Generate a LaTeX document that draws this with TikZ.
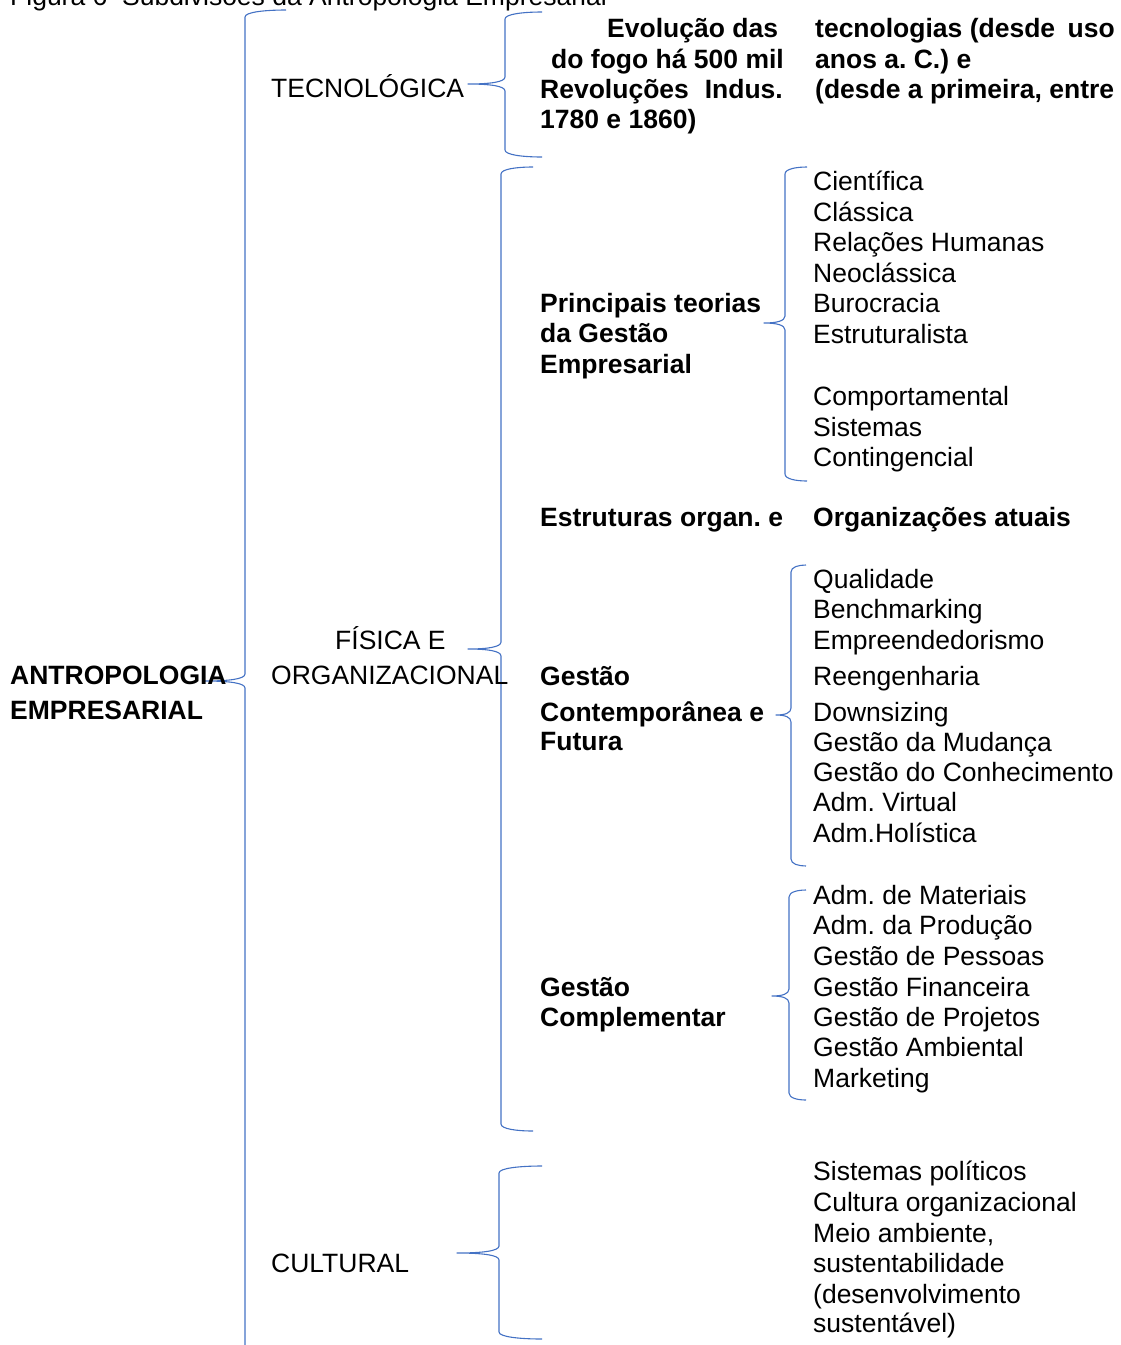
\documentclass[tikz,border=0pt]{standalone}
\usepackage{fontspec}
\setmainfont{Liberation Sans}
\frenchspacing
\definecolor{brc}{HTML}{4472C4}
\tikzset{
  txt/.style={anchor=base west, inner sep=0pt, font=\fontsize{26.5}{30}\selectfont},
  btxt/.style={txt, font=\fontsize{26.5}{30}\selectfont\bfseries},
  rbtxt/.style={btxt, anchor=base east},
  wbrace/.style={draw=brc, line width=1.1pt, line join=round}
}
% name, v (vertical x), e (arm end x), t (top y), b (bottom y), p (tip x), m (tip y)
\newcommand\wordbrace[7]{%
  \coordinate (#1) at (#6,#7);
  \draw[wbrace] (#3,#4) .. controls ({(#2+#3)/2},#4) and (#2,{#4+2}) .. (#2,{#4+7})
    -- (#2,{#7-7}) .. controls (#2,{#7-2}) and ({#2-0.4*(#2-#6)},#7) .. (#1)
    .. controls ({#2-0.4*(#2-#6)},#7) and (#2,{#7+2}) .. (#2,{#7+7})
    -- (#2,{#5-7}) .. controls (#2,{#5-2}) and ({(#2+#3)/2},#5) .. (#3,#5);
}
\begin{document}
\begin{tikzpicture}[x=1pt,y=-1pt]
\useasboundingbox (0,0) rectangle (1121,1345);
\clip (0,0) rectangle (1121,1345);

% title (cut off at top, as in the reference)
\node[txt] (title) at (10,5) {Figura 6\ \ Subdivisões da Antropologia Empresarial};

% braces
\wordbrace{bmain}{245}{286}{10}{1365}{205}{681}
\wordbrace{btec}{505}{542}{12}{157}{468}{84}
\wordbrace{bfis}{501}{533}{167}{1131}{468}{649}
\wordbrace{bpri}{785}{807}{167}{481}{764}{323}
\wordbrace{bcon}{791}{806}{565}{866}{776}{715}
\wordbrace{bcom}{789}{806}{890}{1100}{772}{996}
\wordbrace{bcul}{499}{542}{1166}{1339}{457}{1253}

% root
\node[btxt] (ant1) at (10,684.5) {ANTROPOLOGIA};
\node[btxt] (ant2) at (10,719.5) {EMPRESARIAL};

% level 1
\node[txt] (tec) at (271,97.5) {TECNOLÓGICA};
\node[txt] (fis1) at (335,649.5) {FÍSICA E};
\node[txt] (fis2) at (271,684.5) {ORGANIZACIONAL};
\node[txt] (cul) at (271,1272.5) {CULTURAL};

% tecnologica text (two columns)
\node[btxt] (tc1) at (607,37) {Evolução das};
\node[btxt] (tc2) at (551,68) {do fogo há 500 mil};
\node[btxt] (tc3a) at (540,98) {Revoluções};
\node[rbtxt] (tc3b) at (783,98) {Indus.};
\node[btxt] (tc4) at (540,128) {1780 e 1860)};
\node[btxt] (td1a) at (815,37) {tecnologias (desde};
\node[rbtxt] (td1b) at (1115,37) {uso};
\node[btxt] (td2) at (815,68) {anos a. C.) e};
\node[btxt] (td3) at (815,98) {(desde a primeira, entre};

% principais teorias
\node[btxt] (pr1) at (540,312.5) {Principais teorias};
\node[btxt] (pr2) at (540,342.5) {da Gestão};
\node[btxt] (pr3) at (540,373.5) {Empresarial};
\node[txt] (th1) at (813,190.5) {Científica};
\node[txt] (th2) at (813,221) {Clássica};
\node[txt] (th3) at (813,251.5) {Relações Humanas};
\node[txt] (th4) at (813,282) {Neoclássica};
\node[txt] (th5) at (813,312.5) {Burocracia};
\node[txt] (th6) at (813,343) {Estruturalista};
\node[txt] (th7) at (813,405.5) {Comportamental};
\node[txt] (th8) at (813,436) {Sistemas};
\node[txt] (th9) at (813,466) {Contingencial};

% estruturas
\node[btxt] (es1) at (540,526.5) {Estruturas organ. e};
\node[btxt] (es2) at (813,526.5) {Organizações atuais};

% gestao contemporanea
\node[btxt] (gc1) at (540,685.5) {Gestão};
\node[btxt] (gc2) at (540,721.5) {Contemporânea e};
\node[btxt] (gc3) at (540,750.5) {Futura};
\node[txt] (cn1) at (813,588.5) {Qualidade};
\node[txt] (cn2) at (813,618.5) {Benchmarking};
\node[txt] (cn3) at (813,649.5) {Empreendedorismo};
\node[txt] (cn4) at (813,685.5) {Reengenharia};
\node[txt] (cn5) at (813,721.5) {Downsizing};
\node[txt] (cn6) at (813,751.5) {Gestão da Mudança};
\node[txt] (cn7) at (813,781.5) {Gestão do Conhecimento};
\node[txt] (cn8) at (813,811.5) {Adm. Virtual};
\node[txt] (cn9) at (813,842.5) {Adm.Holística};

% gestao complementar
\node[btxt] (gm1) at (540,996.5) {Gestão};
\node[btxt] (gm2) at (540,1026.5) {Complementar};
\node[txt] (cm1) at (813,904.5) {Adm. de Materiais};
\node[txt] (cm2) at (813,934.5) {Adm. da Produção};
\node[txt] (cm3) at (813,965.5) {Gestão de Pessoas};
\node[txt] (cm4) at (813,996.5) {Gestão Financeira};
\node[txt] (cm5) at (813,1026.5) {Gestão de Projetos};
\node[txt] (cm6) at (813,1056.5) {Gestão Ambiental};
\node[txt] (cm7) at (813,1087.5) {Marketing};

% cultural
\node[txt] (cu1) at (813,1180.5) {Sistemas políticos};
\node[txt] (cu2) at (813,1211.5) {Cultura organizacional};
\node[txt] (cu3) at (813,1242.5) {Meio ambiente,};
\node[txt] (cu4) at (813,1272.5) {sustentabilidade};
\node[txt] (cu5) at (813,1303.5) {(desenvolvimento};
\node[txt] (cu6) at (813,1332.5) {sustentável)};
\end{tikzpicture}
\end{document}
